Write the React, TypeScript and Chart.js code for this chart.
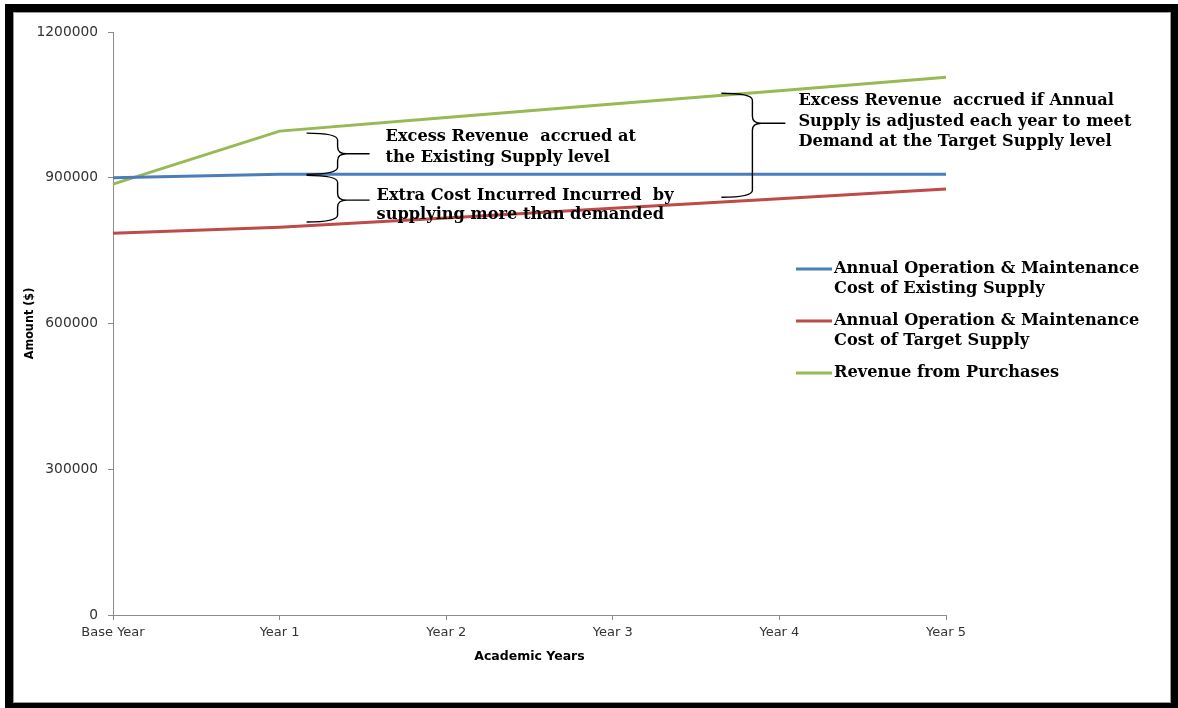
import React, { useEffect, useRef } from "react";
import { Chart, registerables } from "chart.js";

Chart.register(...registerables);

const categories = ["Base Year", "Year 1", "Year 2", "Year 3", "Year 4", "Year 5"];
const existingCost = [900000, 907000, 907000, 907000, 907000, 907000];
const targetCost = [786000, 798000, 817000, 837000, 857000, 877000];
const revenue = [887000, 996000, 1024000, 1052000, 1079000, 1107000];
const yTicks = [0, 300000, 600000, 900000, 1200000];

const seriesNames = [
  ["Annual Operation & Maintenance", "Cost of Existing Supply"],
  ["Annual Operation & Maintenance", "Cost of Target Supply"],
  ["Revenue from Purchases"],
];
const seriesColors = ["#4A7EBB", "#BE4B48", "#98B954"];

const note1 = ["Excess Revenue  accrued at", "the Existing Supply level"];
const note2 = ["Extra Cost Incurred Incurred  by", "supplying more than demanded"];
const note3 = [
  "Excess Revenue  accrued if Annual",
  "Supply is adjusted each year to meet",
  "Demand at the Target Supply level",
];

const SERIF = "bold 16.2px 'DejaVu Serif', serif";
const SANS = "'DejaVu Sans', sans-serif";

function drawBrace(ctx: CanvasRenderingContext2D, x0: number, xs: number, tip: number, top: number, mid: number, bottom: number) {
  const r = 7;
  ctx.beginPath();
  ctx.moveTo(x0, top);
  ctx.quadraticCurveTo(xs, top, xs, top + r);
  ctx.lineTo(xs, mid - r);
  ctx.quadraticCurveTo(xs, mid, xs + r + 2, mid);
  ctx.lineTo(tip, mid);
  ctx.moveTo(xs + r + 2, mid);
  ctx.quadraticCurveTo(xs, mid, xs, mid + r);
  ctx.lineTo(xs, bottom - r);
  ctx.quadraticCurveTo(xs, bottom, x0, bottom);
  ctx.stroke();
}

const framePlugin = {
  id: "frame",
  beforeDraw(chart: any) {
    const { ctx, width, height } = chart;
    ctx.save();
    ctx.fillStyle = "#ffffff";
    ctx.fillRect(0, 0, width, height);
    ctx.fillStyle = "#000000";
    ctx.fillRect(5, 4, width - 5, height - 4);
    ctx.fillStyle = "#ffffff";
    ctx.fillRect(13, 12, width - 13 - 7, height - 12 - 5);
    ctx.strokeStyle = "#9a9a9a";
    ctx.lineWidth = 1;
    ctx.strokeRect(13.5, 12.5, width - 13 - 8, height - 12 - 6);
    ctx.restore();
  },
};

const notesPlugin = {
  id: "notes",
  afterDraw(chart: any) {
    const { ctx } = chart;
    const xs = chart.scales.x;
    const ys = chart.scales.y;
    const x1 = xs.getPixelForValue(1);
    ctx.save();
    ctx.strokeStyle = "#000000";
    ctx.lineWidth = 1.4;
    // brace 1: revenue vs existing cost at Year 1
    const b1x = x1 + 27;
    const t1 = ys.getPixelForValue(revenue[1]) + 2;
    const m1 = ys.getPixelForValue(existingCost[1]);
    drawBrace(ctx, b1x, b1x + 31, b1x + 63, t1, (t1 + m1) / 2, m1);
    // brace 2: existing cost vs target cost
    const bot2 = ys.getPixelForValue(809000);
    drawBrace(ctx, b1x, b1x + 31, b1x + 63, m1 + 1, (m1 + bot2) / 2 + 2, bot2);
    // brace 3
    const x4 = xs.getPixelForValue(4);
    const b3x = x4 - 58;
    const t3 = ys.getPixelForValue(1074000);
    const bt3 = ys.getPixelForValue(860000);
    drawBrace(ctx, b3x, b3x + 31, b3x + 64, t3, t3 + 30, bt3);

    ctx.fillStyle = "#000000";
    ctx.font = SERIF;
    ctx.textBaseline = "middle";
    ctx.textAlign = "left";
    note1.forEach((t, i) => ctx.fillText(t, b1x + 79, t1 + 4 + i * 21));
    note2.forEach((t, i) => ctx.fillText(t, b1x + 70, m1 + 21 + i * 19.5));
    note3.forEach((t, i) => ctx.fillText(t, b3x + 77, t3 + 8 + i * 20.5));

    // legend
    const lx = chart.chartArea.right - 150;
    const ly = [269, 321, 373];
    seriesNames.forEach((lines, k) => {
      ctx.strokeStyle = seriesColors[k];
      ctx.lineWidth = 3;
      ctx.beginPath();
      ctx.moveTo(lx, ly[k]);
      ctx.lineTo(lx + 36, ly[k]);
      ctx.stroke();
      lines.forEach((t, i) => ctx.fillText(t, lx + 38, ly[k] + i * 20));
    });
    ctx.restore();
  },
};

export default function App() {
  const ref = useRef<HTMLCanvasElement | null>(null);
  useEffect(() => {
    if (!ref.current) return;
    const names = ["Annual Operation & Maintenance Cost of Existing Supply", "Annual Operation & Maintenance Cost of Target Supply", "Revenue from Purchases"];
    const data = [existingCost, targetCost, revenue];
    const chart = new Chart(ref.current, {
      type: "line",
      data: {
        labels: categories,
        datasets: data.map((d, i) => ({
          label: names[i],
          data: d,
          borderColor: seriesColors[i],
          backgroundColor: seriesColors[i],
          borderWidth: 3,
          pointRadius: 0,
          tension: 0,
        })),
      },
      options: {
        animation: false,
        responsive: false,
        maintainAspectRatio: false,
        layout: { padding: { top: 32, left: 0, right: 232, bottom: 0 } },
        plugins: { legend: { display: false }, tooltip: { enabled: false } },
        scales: {
          x: {
            offset: false,
            grid: { display: true, drawOnChartArea: false, drawTicks: true, tickLength: 5, color: "#8c8c8c" },
            border: { display: true, color: "#8c8c8c" },
            ticks: { color: "#333333", font: { family: SANS, size: 13 }, padding: 5, maxRotation: 0 },
            title: { display: true, text: "Academic Years", color: "#000000", font: { family: SANS, size: 12.5, weight: "bold" }, padding: { top: 0, bottom: 44 } },
            afterFit: (s: any) => { s.height = 93; },
          },
          y: {
            min: 0,
            max: 1200000,
            afterBuildTicks: (s: any) => { s.ticks = yTicks.map((v) => ({ value: v })); },
            grid: { display: true, drawOnChartArea: false, drawTicks: true, tickLength: 5, color: "#8c8c8c" },
            border: { display: true, color: "#8c8c8c" },
            ticks: { color: "#333333", font: { family: SANS, size: 13.8 }, padding: 10, callback: (v: any) => String(v) },
            title: { display: true, text: "Amount ($)", color: "#000000", font: { family: "'DejaVu Sans Condensed', 'DejaVu Sans', sans-serif", size: 12.5, weight: "bold" }, padding: { top: 22, bottom: 0 } },
            afterFit: (s: any) => { s.width = 113; },
          },
        },
      },
      plugins: [framePlugin, notesPlugin],
    });
    return () => chart.destroy();
  }, []);
  return (
    <div style={{ position: "absolute", left: 0, top: 0, width: 1178, height: 708 }}>
      <canvas ref={ref} width={1178} height={708} style={{ display: "block" }} />
    </div>
  );
}
